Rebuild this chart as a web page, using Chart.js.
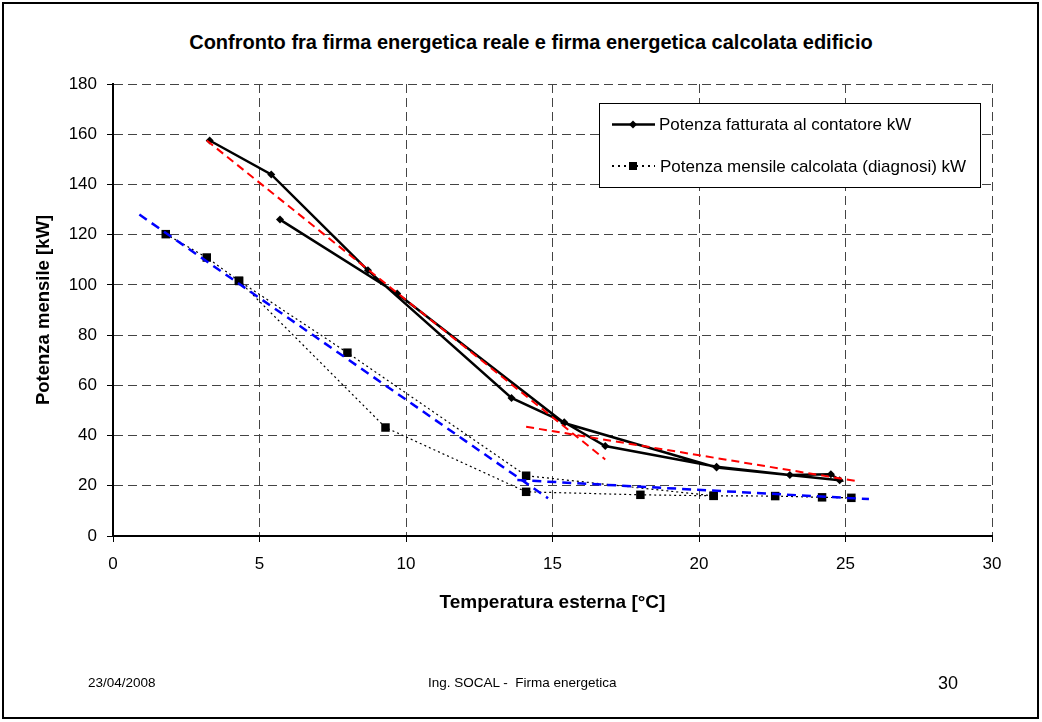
<!DOCTYPE html>
<html>
<head>
<meta charset="utf-8">
<script src="https://cdn.jsdelivr.net/npm/chart.js@4"></script>
<style>
  html, body { margin: 0; padding: 0; background: #fff; }
  body { width: 1042px; height: 722px; position: relative; overflow: hidden; font-family: "Liberation Sans", Arial, sans-serif; color: #000; }
  .frame { position: absolute; left: 2px; top: 2px; width: 1033px; height: 713px; border: 2px solid #000; }
  .chartBox { position: absolute; left: 0; top: 0; width: 1042px; height: 722px; }
  .title { position: absolute; left: 0; top: 30px; width: 1062px; text-align: center; font-weight: bold; font-size: 20px; line-height: 24px; }
  .foot { position: absolute; font-size: 13.5px; line-height: 16px; top: 675px; white-space: pre; }
</style>
</head>
<body>
<div class="frame"></div>
<div class="title">Confronto fra firma energetica reale e firma energetica calcolata edificio</div>
<div class="chartBox"><canvas id="firma"></canvas></div>
<div class="foot" style="left:88px">23/04/2008</div>
<div class="foot" style="left:428px">Ing. SOCAL -  Firma energetica</div>
<div class="foot" style="left:938px; top:672px; font-size:18px; line-height:22px">30</div>
<script>
"use strict";

// potenza fatturata al contatore (ordine dei punti come nel foglio)
const realTemp = [3.3, 5.4, 8.7, 13.6, 15.4, 16.8, 20.6, 23.1, 24.5, 24.8, 20.6, 15.4, 9.7, 5.7];
const realPower = [157.5, 144, 105.8, 55, 45.3, 35.8, 27.6, 24.3, 24.6, 22.2, 27.3, 45, 96.6, 126];

// potenza mensile calcolata (diagnosi); null = interruzione della linea
const calcTemp = [1.8, 3.2, 4.3, 8.0, 14.1, 20.5, 22.6, 24.2, 25.2, null, 4.3, 9.3, 14.1, 18.0, 20.5];
const calcPower = [120.2, 110.9, 101.6, 73, 24, 16, 15.9, 15.4, 15.2, null, 101.6, 43.2, 17.6, 16.4, 16];

// linee di tendenza (estremi)
const redTrend1Temp = [3.2, 16.8];
const redTrend1Power = [157.5, 30.5];
const redTrend2Temp = [14.1, 25.4];
const redTrend2Power = [43.5, 21.8];
const blueTrend1Temp = [0.9, 14.85];
const blueTrend1Power = [128, 15];
const blueTrend2Temp = [13.8, 25.8];
const blueTrend2Power = [22.3, 14.7];

const xTicks = [0, 5, 10, 15, 20, 25, 30];
const yTicks = [0, 20, 40, 60, 80, 100, 120, 140, 160, 180];

const seriesNames = [
  "Potenza fatturata al contatore kW",
  "Potenza mensile calcolata (diagnosi) kW",
];

const fontFamily = '"Liberation Sans", Arial, sans-serif';

const toPoints = (xs, ys) => xs.map((x, i) => ({ x: x, y: ys[i] }));

const trendSet = (xs, ys, color, dash, width) => ({
  data: toPoints(xs, ys),
  borderColor: color,
  borderWidth: width,
  borderDash: dash,
  pointRadius: 0,
  fill: false,
  order: 0,
});

// legenda con cornice, disegnata sopra la griglia
const boxLegend = {
  id: "boxLegend",
  afterDraw(chart) {
    const ctx = chart.ctx;
    const left = 599.5, top = 103.5, right = 980.5, bottom = 187.5;
    ctx.save();
    ctx.fillStyle = "#fff";
    ctx.fillRect(left, top, right - left, bottom - top);
    ctx.strokeStyle = "#000";
    ctx.lineWidth = 1;
    ctx.strokeRect(left, top, right - left, bottom - top);

    // voce 1
    ctx.beginPath();
    ctx.lineWidth = 2.5;
    ctx.moveTo(612, 124.5);
    ctx.lineTo(655, 124.5);
    ctx.stroke();
    ctx.fillStyle = "#000";
    ctx.beginPath();
    ctx.moveTo(633, 120.5);
    ctx.lineTo(637, 124.5);
    ctx.lineTo(633, 128.5);
    ctx.lineTo(629, 124.5);
    ctx.closePath();
    ctx.fill();

    // voce 2
    ctx.beginPath();
    ctx.lineWidth = 2;
    ctx.setLineDash([2, 4]);
    ctx.moveTo(612, 166);
    ctx.lineTo(655, 166);
    ctx.stroke();
    ctx.setLineDash([]);
    ctx.fillRect(629, 162, 8, 8);

    ctx.font = "17px " + fontFamily;
    ctx.textBaseline = "middle";
    ctx.textAlign = "left";
    ctx.fillText(seriesNames[0], 659, 125);
    ctx.fillText(seriesNames[1], 660, 167);
    ctx.restore();
  },
};

const config = {
  type: "line",
  data: {
    datasets: [
      trendSet(redTrend1Temp, redTrend1Power, "#ff0000", [8, 5], 2),
      trendSet(redTrend2Temp, redTrend2Power, "#ff0000", [8, 5], 2),
      trendSet(blueTrend1Temp, blueTrend1Power, "#0000ff", [9, 6], 2.5),
      trendSet(blueTrend2Temp, blueTrend2Power, "#0000ff", [9, 6], 2.5),
      {
        label: seriesNames[0],
        data: toPoints(realTemp, realPower),
        borderColor: "#000",
        borderWidth: 2.5,
        pointStyle: "rectRot",
        pointRadius: 4,
        pointBackgroundColor: "#000",
        pointBorderWidth: 0,
        fill: false,
        order: 1,
      },
      {
        label: seriesNames[1],
        data: toPoints(calcTemp, calcPower),
        borderColor: "#000",
        borderWidth: 1.2,
        borderDash: [2, 3],
        pointStyle: "rect",
        pointRadius: 6,
        pointBackgroundColor: "#000",
        pointBorderWidth: 0,
        fill: false,
        order: 1,
      },
    ],
  },
  options: {
    responsive: true,
    maintainAspectRatio: false,
    animation: false,
    events: [],
    layout: {
      padding: { left: 20, right: 50, top: 84, bottom: 0 },
    },
    scales: {
      x: {
        type: "linear",
        min: 0,
        max: 30,
        afterBuildTicks: (scale) => {
          scale.ticks = xTicks.map((v) => ({ value: v }));
        },
        afterFit: (scale) => {
          scale.height = 186;
        },
        grid: {
          color: "#444",
          lineWidth: 1,
          tickLength: 6,
          tickColor: "#000",
        },
        border: { display: true, color: "#000", width: 2, dash: [9, 5] },
        ticks: {
          color: "#000",
          padding: 12,
          font: { size: 17, family: fontFamily },
        },
        title: {
          display: true,
          text: "Temperatura esterna [°C]",
          color: "#000",
          font: { size: 19, weight: "bold", family: fontFamily },
          padding: { top: 0, bottom: 108 },
        },
      },
      y: {
        type: "linear",
        min: 0,
        max: 180,
        afterBuildTicks: (scale) => {
          scale.ticks = yTicks.map((v) => ({ value: v }));
        },
        afterFit: (scale) => {
          scale.width = 93;
        },
        grid: {
          color: "#444",
          lineWidth: 1,
          tickLength: 6,
          tickColor: "#000",
        },
        border: { display: true, color: "#000", width: 2, dash: [9, 5] },
        ticks: {
          color: "#000",
          padding: 10,
          font: { size: 17, family: fontFamily },
        },
        title: {
          display: true,
          text: "Potenza mensile [kW]",
          color: "#000",
          font: { size: 18.5, weight: "bold", family: fontFamily },
          padding: { top: 13, bottom: 0 },
        },
      },
    },
    plugins: {
      legend: { display: false },
      tooltip: { enabled: false },
    },
  },
  plugins: [boxLegend],
};

new Chart(document.getElementById("firma"), config);
</script>
</body>
</html>
